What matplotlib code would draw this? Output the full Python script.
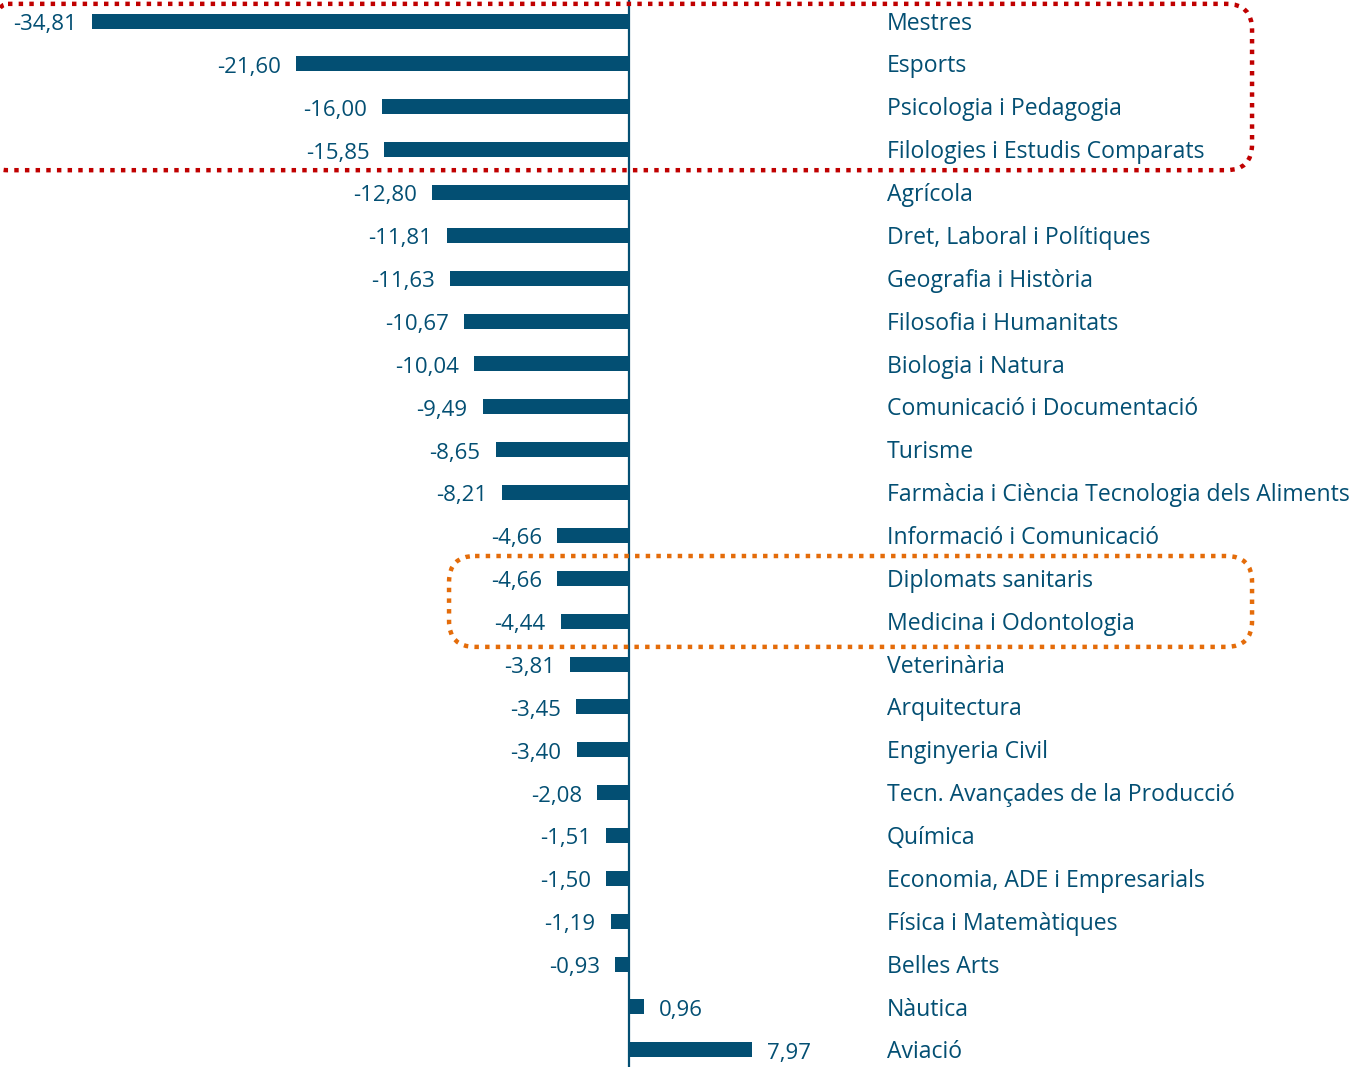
import matplotlib
matplotlib.use('Agg')
import matplotlib.pyplot as plt
from matplotlib.patches import FancyBboxPatch

# Dades
categories = ['Mestres', 'Esports', 'Psicologia i Pedagogia', 'Filologies i Estudis Comparats',
              'Agrícola', 'Dret, Laboral i Polítiques', 'Geografia i Història',
              'Filosofia i Humanitats', 'Biologia i Natura', 'Comunicació i Documentació',
              'Turisme', 'Farmàcia i Ciència Tecnologia dels Aliments', 'Informació i Comunicació',
              'Diplomats sanitaris', 'Medicina i Odontologia', 'Veterinària', 'Arquitectura',
              'Enginyeria Civil', 'Tecn. Avançades de la Producció', 'Química',
              'Economia, ADE i Empresarials', 'Física i Matemàtiques', 'Belles Arts',
              'Nàutica', 'Aviació']
valors = [-34.81, -21.60, -16.00, -15.85, -12.80, -11.81, -11.63, -10.67, -10.04, -9.49,
          -8.65, -8.21, -4.66, -4.66, -4.44, -3.81, -3.45, -3.40, -2.08, -1.51, -1.50,
          -1.19, -0.93, 0.96, 7.97]

# Grups destacats (index inicial, index final, color)
grups = [(0, 3, '#C00000'), (13, 14, '#E46C0A')]

blau = '#034F73'
plt.rcParams['font.family'] = ['Open Sans', 'DejaVu Sans']

fig = plt.figure(figsize=(13.57, 10.67), dpi=100)
ax = fig.add_axes([0, 0, 1, 1])

y = list(range(len(categories)))
ax.barh(y, valors, height=0.35, color=blau, zorder=2)

ax.set_xlim(-40.77, 47.18)
ax.set_ylim(24.4, -0.49)
ax.axis('off')
ax.axvline(0, color=blau, lw=1.6, zorder=3)

px_x = 1357 / (47.18 + 40.77)   # pixels per unitat x
px_y = 1067 / (24.4 + 0.49)     # pixels per fila
for i, (cat, v) in enumerate(zip(categories, valors)):
    txt = f'{v:.2f}'.replace('.', ',')
    if v < 0:
        ax.text(v - 15 / px_x, i + 0.08, txt, ha='right', va='center', fontsize=16, color=blau)
    else:
        ax.text(v + 15 / px_x, i + 0.08, txt, ha='left', va='center', fontsize=16, color=blau)
    ax.text(258 / px_x, i + 0.06, cat, ha='left', va='center', fontsize=16.6, color=blau)

# Caixes puntejades
x_dreta = 623 / px_x
for ini, fi, col in grups:
    if ini == 0:
        x0 = -40.77 - 18 / px_x
        y0, y1 = ini - 0.4, fi + 0.48
    else:
        x0 = -180 / px_x
        y0, y1 = ini - 0.52, fi + 0.6
    box = FancyBboxPatch((x0, y0), x_dreta - x0, y1 - y0,
                         boxstyle=f'round,pad=0,rounding_size={26 / px_x}',
                         mutation_aspect=px_x / px_y,
                         fill=False, edgecolor=col, lw=3.2,
                         linestyle=(0, (1, 1.4)), clip_on=False, zorder=4)
    ax.add_patch(box)

fig.savefig('out.png', dpi=100)
